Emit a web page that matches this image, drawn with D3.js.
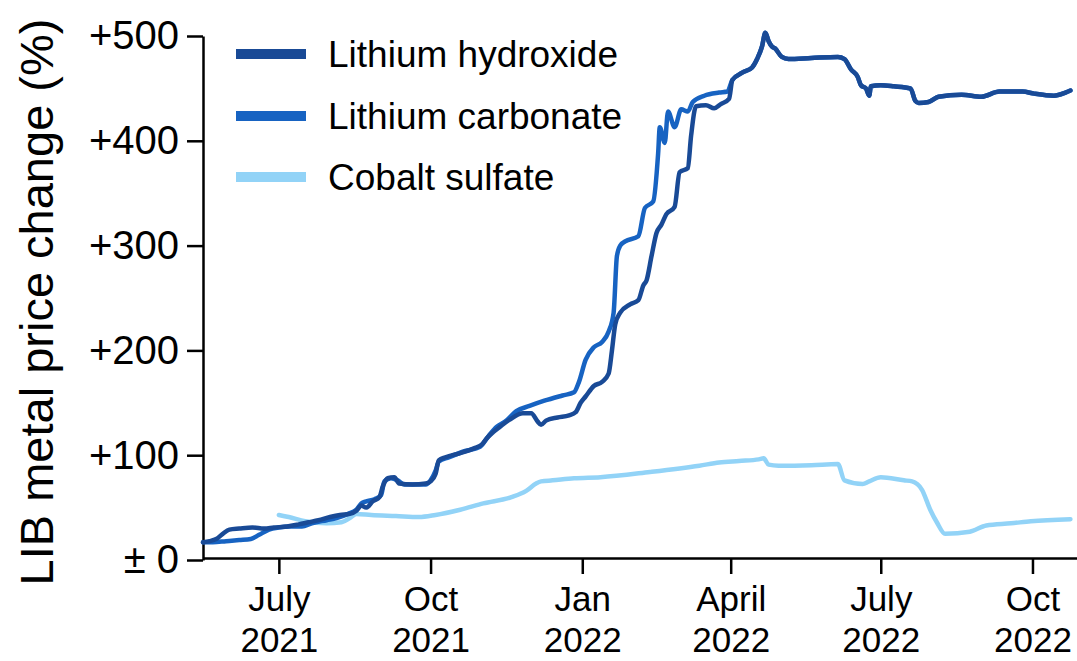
<!DOCTYPE html>
<html>
<head>
<meta charset="utf-8">
<script src="https://cdn.jsdelivr.net/npm/d3@7"></script>
<style>
  html, body { margin: 0; padding: 0; background: #fff; }
  svg { display: block; font-family: "Liberation Sans", Arial, sans-serif; }
</style>
</head>
<body>
<svg id="chart" width="1077" height="661"></svg>
<script>
// Price change vs. mid-May 2021 (%), read as [date, value]
const hydroxide = [
  ["2021-05-16",17],["2021-05-20",18],["2021-05-24",20],["2021-05-28",25],["2021-06-01",29],
  ["2021-06-07",30],["2021-06-15",31],["2021-06-22",30],["2021-06-28",31],["2021-07-06",32],
  ["2021-07-13",34],["2021-07-19",36],["2021-07-25",38],["2021-08-01",41],["2021-08-07",43],
  ["2021-08-13",44],["2021-08-17",47],["2021-08-20",52],["2021-08-23",50],["2021-08-27",56],
  ["2021-08-31",60],["2021-09-02",70],["2021-09-05",78],["2021-09-09",79],["2021-09-12",73],
  ["2021-09-20",72],["2021-09-28",73],["2021-10-01",75],["2021-10-04",82],["2021-10-06",95],
  ["2021-10-10",98],["2021-10-19",102],["2021-10-28",107],["2021-11-01",110],["2021-11-04",116],
  ["2021-11-08",122],["2021-11-12",127],["2021-11-18",134],["2021-11-26",140],["2021-12-01",140],
  ["2021-12-05",132],["2021-12-07",129],["2021-12-10",133],["2021-12-17",136],["2021-12-24",138],
  ["2021-12-28",141],["2021-12-31",150],["2022-01-03",156],["2022-01-08",166],["2022-01-13",170],
  ["2022-01-17",178],["2022-01-19",200],["2022-01-21",225],["2022-01-24",236],["2022-01-30",244],
  ["2022-02-04",248],["2022-02-07",262],["2022-02-09",267],["2022-02-12",290],["2022-02-15",312],
  ["2022-02-18",320],["2022-02-21",330],["2022-02-26",337],["2022-03-01",370],["2022-03-06",374],
  ["2022-03-08",405],["2022-03-11",433],["2022-03-17",434],["2022-03-22",431],["2022-03-26",435],
  ["2022-03-31",440],["2022-04-02",458],["2022-04-08",465],["2022-04-14",470],["2022-04-17",478],
  ["2022-04-20",490],["2022-04-22",503],["2022-04-24",495],["2022-04-26",490],["2022-04-28",488],
  ["2022-05-02",480],["2022-05-06",478],["2022-05-20",479],["2022-06-05",480],["2022-06-09",478],
  ["2022-06-13",468],["2022-06-17",461],["2022-06-19",453],["2022-06-22",450],["2022-06-24",443],
  ["2022-06-25",452],["2022-07-01",453],["2022-07-09",452],["2022-07-19",450],["2022-07-22",438],
  ["2022-07-24",436],["2022-07-30",437],["2022-08-05",442],["2022-08-19",444],["2022-08-31",442],
  ["2022-09-11",447],["2022-09-25",447],["2022-10-02",445],["2022-10-14",443],["2022-10-21",446],
  ["2022-10-24",448]
];

const carbonate = [
  ["2021-05-16",17],["2021-05-22",17],["2021-05-30",18],["2021-06-07",19],["2021-06-14",20],
  ["2021-06-19",24],["2021-06-25",29],["2021-07-01",31],["2021-07-08",32],["2021-07-15",32],
  ["2021-07-21",35],["2021-07-30",38],["2021-08-05",40],["2021-08-12",44],["2021-08-17",48],
  ["2021-08-20",54],["2021-08-23",56],["2021-08-28",58],["2021-09-01",62],["2021-09-03",75],
  ["2021-09-07",78],["2021-09-11",76],["2021-09-15",72],["2021-09-28",72],["2021-10-01",76],
  ["2021-10-04",85],["2021-10-06",94],["2021-10-12",98],["2021-10-22",104],["2021-10-31",108],
  ["2021-11-05",118],["2021-11-10",127],["2021-11-16",133],["2021-11-22",142],["2021-11-30",147],
  ["2021-12-09",152],["2021-12-20",157],["2021-12-27",160],["2021-12-30",170],["2022-01-03",191],
  ["2022-01-08",203],["2022-01-13",208],["2022-01-17",218],["2022-01-20",236],["2022-01-22",290],
  ["2022-01-24",300],["2022-01-27",304],["2022-02-04",309],["2022-02-08",336],["2022-02-13",342],
  ["2022-02-16",388],["2022-02-17",413],["2022-02-20",398],["2022-02-22",428],["2022-02-26",413],
  ["2022-03-02",430],["2022-03-06",428],["2022-03-09",437],["2022-03-16",443],["2022-03-25",446],
  ["2022-03-30",447],["2022-04-02",458],["2022-04-08",465],["2022-04-14",470],["2022-04-17",478],
  ["2022-04-20",490],["2022-04-22",503],["2022-04-24",495],["2022-04-26",490],["2022-04-28",488],
  ["2022-05-02",480],["2022-05-06",478],["2022-05-20",479],["2022-06-05",480],["2022-06-09",478],
  ["2022-06-13",468],["2022-06-17",461],["2022-06-19",453],["2022-06-22",450],["2022-06-24",443],
  ["2022-06-25",452],["2022-07-01",453],["2022-07-09",452],["2022-07-19",450],["2022-07-22",438],
  ["2022-07-24",436],["2022-07-30",437],["2022-08-05",442],["2022-08-19",444],["2022-08-31",442],
  ["2022-09-11",447],["2022-09-25",447],["2022-10-02",445],["2022-10-14",443],["2022-10-21",446],
  ["2022-10-24",448]
];

const cobalt = [
  ["2021-07-01",43],["2021-07-07",41],["2021-07-17",37],["2021-07-30",35],["2021-08-08",36],
  ["2021-08-13",40],["2021-08-17",44],["2021-08-26",43],["2021-09-10",42],["2021-09-24",41],
  ["2021-10-04",43],["2021-10-19",48],["2021-11-02",54],["2021-11-19",60],["2021-11-28",66],
  ["2021-12-04",73],["2021-12-07",75],["2021-12-14",76],["2021-12-27",78],["2022-01-12",79],
  ["2022-02-11",84],["2022-03-13",90],["2022-03-25",93],["2022-04-06",94.5],["2022-04-18",96],
  ["2022-04-21",97],["2022-04-24",91],["2022-04-30",90],["2022-05-20",90.5],["2022-06-05",91.5],
  ["2022-06-09",76],["2022-06-20",72.5],["2022-06-24",75],["2022-07-01",79],["2022-07-15",76],
  ["2022-07-20",75],["2022-07-26",67],["2022-07-31",48],["2022-08-04",36],["2022-08-09",25],
  ["2022-08-24",27],["2022-09-03",33],["2022-09-18",35],["2022-09-30",37],["2022-10-24",39]
];

const seriesNames = ["Lithium hydroxide", "Lithium carbonate", "Cobalt sulfate"];
const seriesColors = ["#194a96", "#1763c2", "#92d3f7"];

const xTickDates = ["2021-07-01","2021-10-01","2022-01-01","2022-04-01","2022-07-01","2022-10-01"];
const xTickMonths = ["July","Oct","Jan","April","July","Oct"];
const xTickYears = ["2021","2021","2022","2022","2022","2022"];

const yTicks = [0, 100, 200, 300, 400, 500];
const yTickLabels = ["\u00b1 0", "+100", "+200", "+300", "+400", "+500"];

const parse = d3.utcParse("%Y-%m-%d");

const svg = d3.select("#chart");

const x = d3.scaleUtc()
  .domain([parse("2021-05-16"), parse("2022-10-28")])
  .range([203, 1077]);

const y = d3.scaleLinear().domain([0, 500]).range([560, 36]);

// Y axis
const yAxis = d3.axisLeft(y)
  .tickValues(yTicks)
  .tickFormat((d, i) => yTickLabels[i])
  .tickSize(16)
  .tickSizeOuter(0)
  .tickPadding(8);

const gy = svg.append("g").attr("transform", "translate(203,0)").call(yAxis);
gy.select(".domain").attr("stroke", "#000").attr("stroke-width", 2.5);
gy.selectAll(".tick line").attr("stroke", "#000").attr("stroke-width", 2.5);
gy.selectAll(".tick text")
  .attr("fill", "#000")
  .style("font-size", "40px")
  .style("font-family", "'Liberation Sans', Arial, sans-serif");

// X axis
const xAxis = d3.axisBottom(x)
  .tickValues(xTickDates.map(parse))
  .tickFormat("")
  .tickSize(16)
  .tickSizeOuter(0);

const gx = svg.append("g").attr("transform", "translate(0,558)").call(xAxis);
gx.select(".domain").attr("stroke", "#000").attr("stroke-width", 2.5);
gx.selectAll(".tick line").attr("stroke", "#000").attr("stroke-width", 2.5);

// two-line month / year labels
gx.selectAll(".tick").each(function (d, i) {
  const t = d3.select(this).append("text")
    .attr("fill", "#000")
    .attr("text-anchor", "middle")
    .style("font-size", "35px")
    .style("font-family", "'Liberation Sans', Arial, sans-serif");
  t.append("tspan").attr("x", 0).attr("y", 53).text(xTickMonths[i]);
  t.append("tspan").attr("x", 0).attr("y", 94).text(xTickYears[i]);
});

// Y axis title
svg.append("text")
  .attr("transform", "translate(53,302) rotate(-90)")
  .attr("text-anchor", "middle")
  .attr("fill", "#000")
  .style("font-size", "47px")
  .text("LIB metal price change (%)");

// Lines
const line = d3.line()
  .x(d => x(parse(d[0])))
  .y(d => y(d[1]))
  .curve(d3.curveMonotoneX);

const plot = svg.append("g");
[[cobalt, 2], [carbonate, 1], [hydroxide, 0]].forEach(([data, idx]) => {
  plot.append("path")
    .datum(data)
    .attr("fill", "none")
    .attr("stroke", seriesColors[idx])
    .attr("stroke-width", 4.5)
    .attr("stroke-linejoin", "round")
    .attr("stroke-linecap", "round")
    .attr("d", line);
});

// Legend
const legend = svg.append("g");
const legendY = [54, 116, 177];
seriesNames.forEach((name, i) => {
  legend.append("line")
    .attr("x1", 236).attr("x2", 306)
    .attr("y1", legendY[i]).attr("y2", legendY[i])
    .attr("stroke", seriesColors[i])
    .attr("stroke-width", 10);
  legend.append("text")
    .attr("x", 328).attr("y", legendY[i] + 13)
    .attr("fill", "#000")
    .style("font-size", "37px")
    .text(name);
});
</script>
</body>
</html>
